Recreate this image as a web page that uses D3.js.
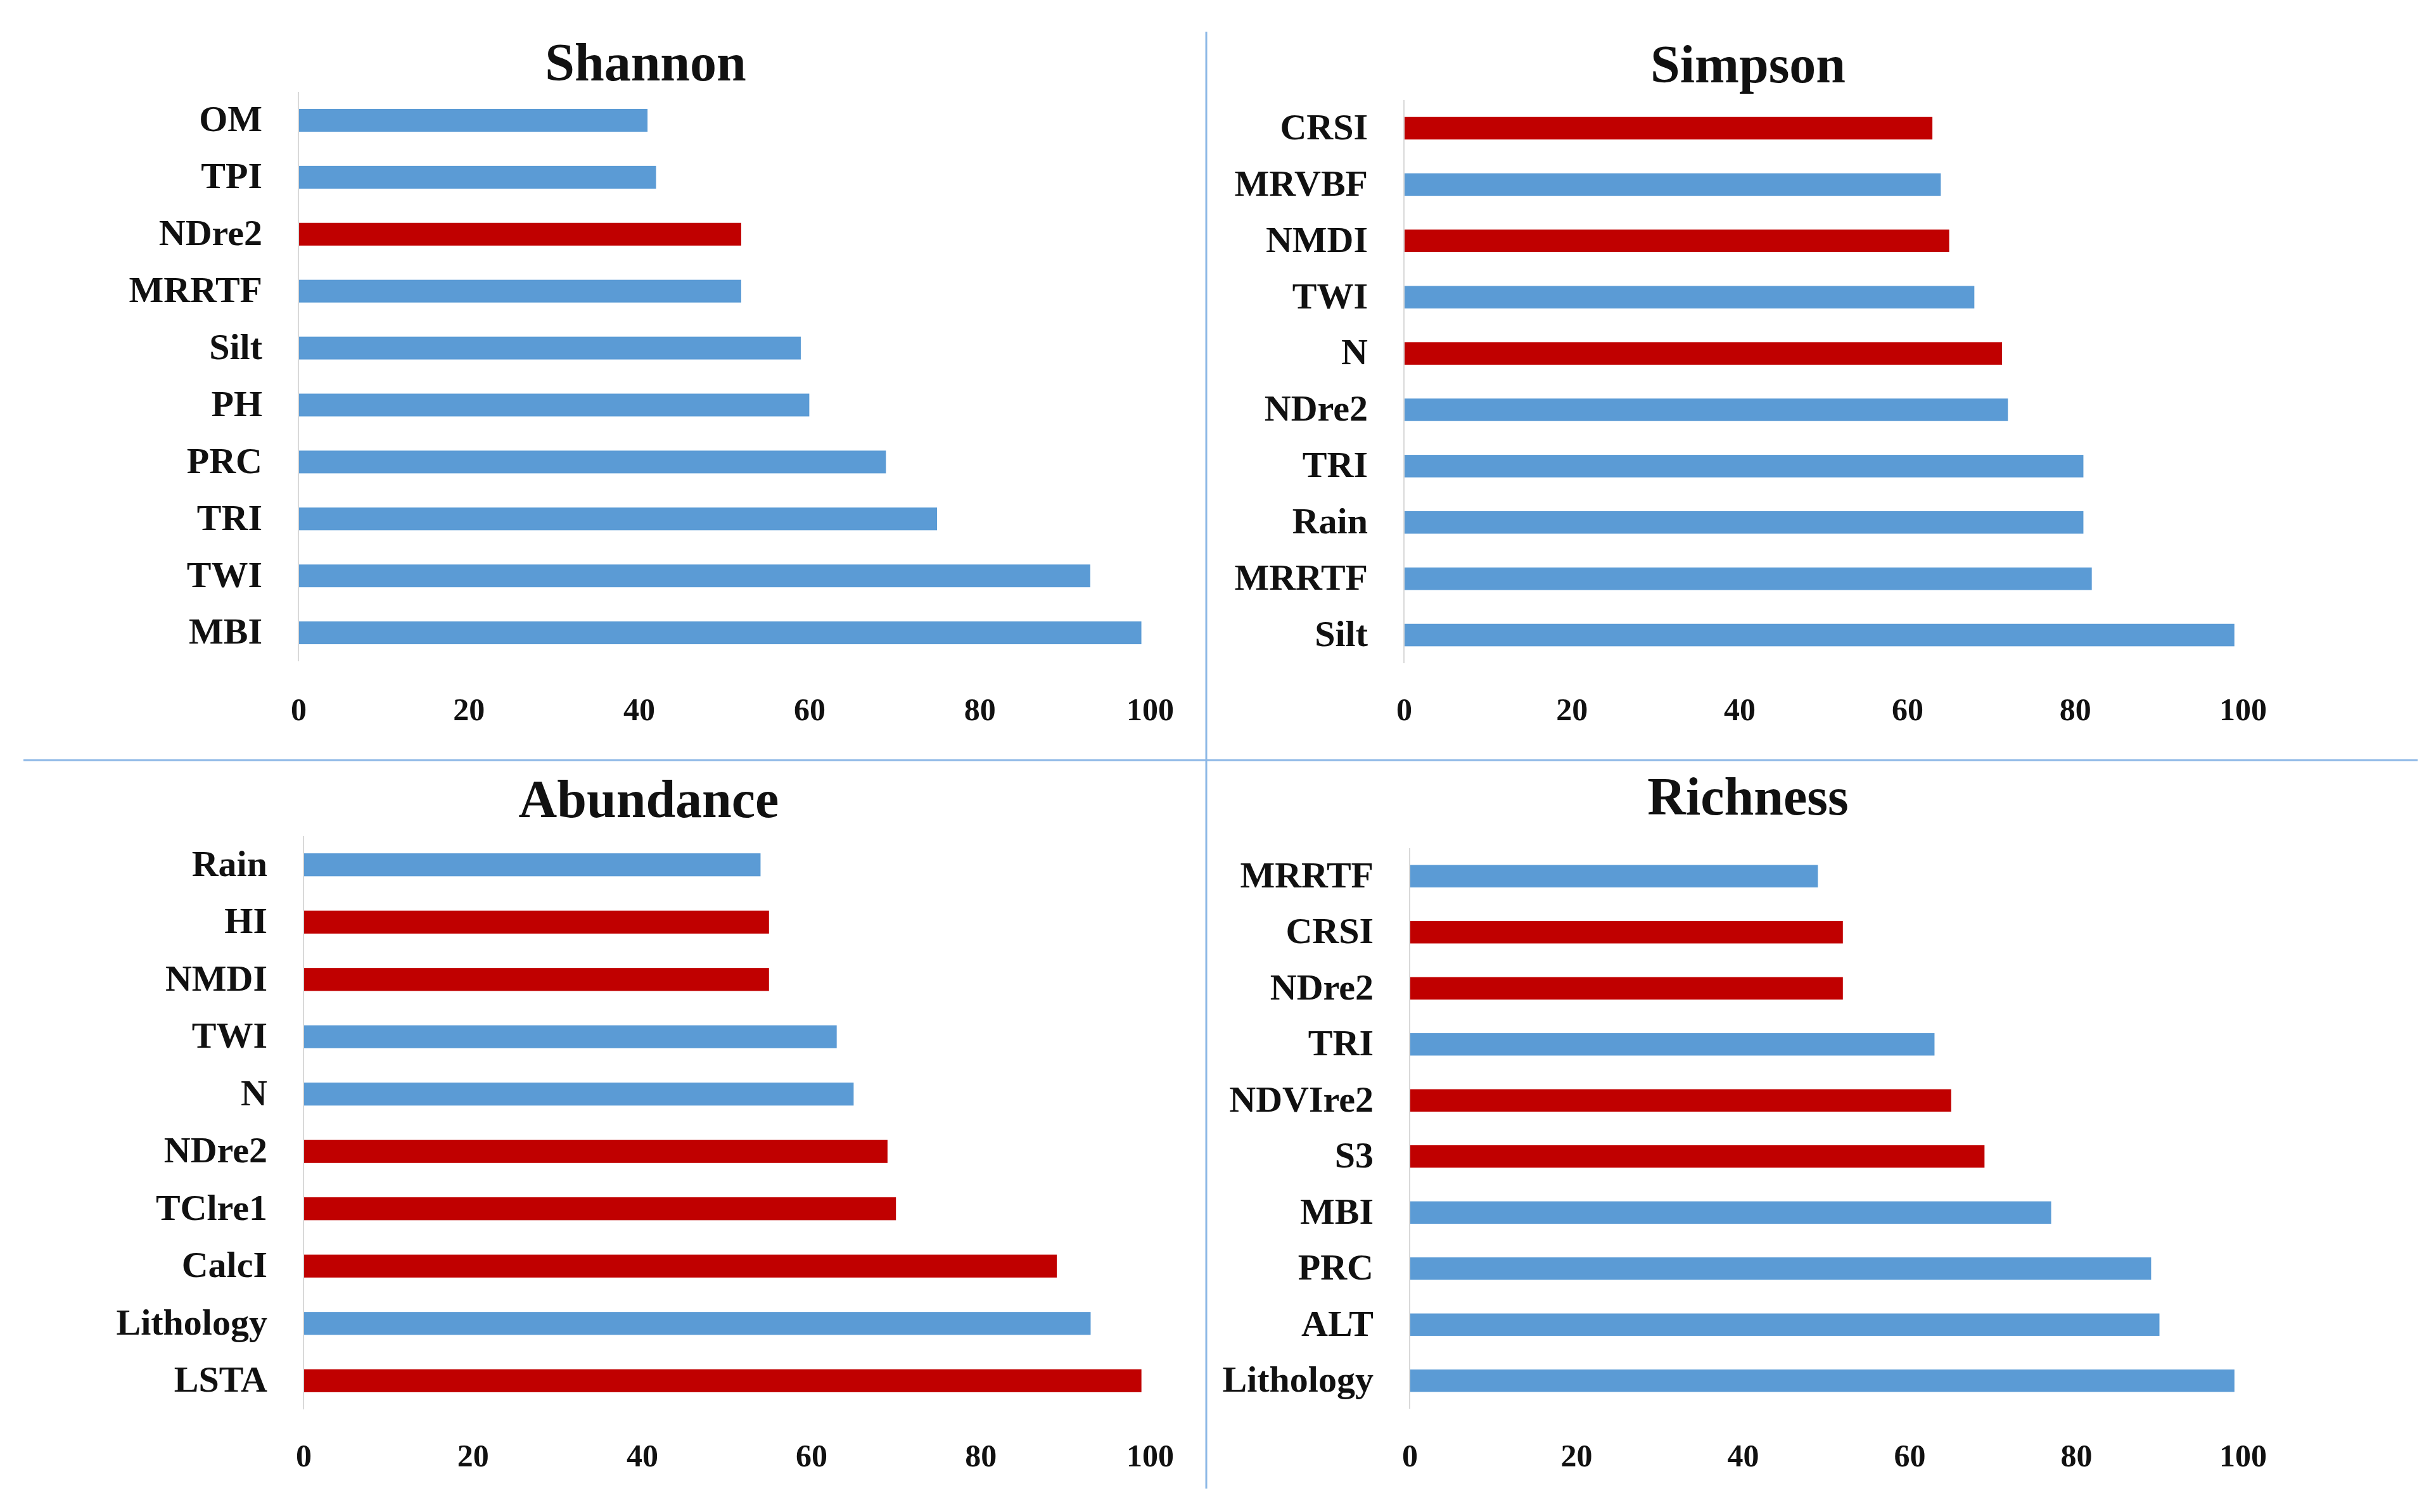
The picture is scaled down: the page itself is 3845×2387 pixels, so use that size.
<!DOCTYPE html>
<html>
<head>
<meta charset="utf-8">
<script src="https://cdn.jsdelivr.net/npm/d3@7"></script>
<style>
  body { margin: 0; background: #fff; }
  text { font-family: "Liberation Serif", "Times New Roman", serif; font-weight: bold; fill: #111; }
</style>
</head>
<body>
<div id="chart"></div>
<script>
// values (percent importance), top to bottom
const shannonCats = ["OM", "TPI", "NDre2", "MRRTF", "Silt", "PH", "PRC", "TRI", "TWI", "MBI"];
const shannonVals = [41, 42, 52, 52, 59, 60, 69, 75, 93, 99];
const shannonGroup = ["A", "A", "B", "A", "A", "A", "A", "A", "A", "A"];

const simpsonCats = ["CRSI", "MRVBF", "NMDI", "TWI", "N", "NDre2", "TRI", "Rain", "MRRTF", "Silt"];
const simpsonVals = [63, 64, 65, 68, 71.3, 72, 81, 81, 82, 99];
const simpsonGroup = ["B", "A", "B", "A", "B", "A", "A", "A", "A", "A"];

const abundanceCats = ["Rain", "HI", "NMDI", "TWI", "N", "NDre2", "TClre1", "CalcI", "Lithology", "LSTA"];
const abundanceVals = [54, 55, 55, 63, 65, 69, 70, 89, 93, 99];
const abundanceGroup = ["A", "B", "B", "A", "A", "B", "B", "B", "A", "B"];

const richnessCats = ["MRRTF", "CRSI", "NDre2", "TRI", "NDVIre2", "S3", "MBI", "PRC", "ALT", "Lithology"];
const richnessVals = [49, 52, 52, 63, 65, 69, 77, 89, 90, 99];
const richnessGroup = ["A", "B", "B", "A", "B", "B", "A", "A", "A", "A"];

const xTicks = [0, 20, 40, 60, 80, 100];

const W = 3845, H = 2387;
const colors = { A: "#5B9BD5", B: "#C00000" };

const svg = d3.select("#chart").append("svg")
  .attr("width", W)
  .attr("height", H)
  .attr("viewBox", `0 0 ${W} ${H}`);

// panel frames: x range of 0..100, band range, title spot, tick baseline
const panels = [
  { title: "Shannon", cats: shannonCats, vals: shannonVals, grp: shannonGroup,
    x: [471, 1815], y: [145, 1044], tx: 1019, ty: 127, tickY: 1137 },
  { title: "Simpson", cats: simpsonCats, vals: simpsonVals, grp: simpsonGroup,
    x: [2216, 3540], y: [158, 1047], tx: 2759, ty: 130, tickY: 1137 },
  { title: "Abundance", cats: abundanceCats, vals: abundanceVals, grp: abundanceGroup,
    x: [479, 1815], y: [1320, 2225], tx: 1024, ty: 1290, tickY: 2315 },
  { title: "Richness", cats: richnessCats, vals: richnessVals, grp: richnessGroup,
    x: [2225, 3540], y: [1339, 2224], tx: 2759, ty: 1286, tickY: 2315 }
];

panels.forEach(p => {
  let x = d3.scaleLinear().domain([0, 100]).range(p.x);
  let y = d3.scaleBand().domain(p.cats).range(p.y)
    .paddingInner(0.6).paddingOuter(0.3);

  let g = svg.append("g");

  g.append("text")
    .attr("x", p.tx)
    .attr("y", p.ty)
    .attr("text-anchor", "middle")
    .attr("font-size", 84)
    .text(p.title);

  g.selectAll("rect")
    .data(p.cats)
    .join("rect")
    .attr("x", x(0))
    .attr("y", d => y(d))
    .attr("width", (d, i) => x(p.vals[i]) - x(0))
    .attr("height", y.bandwidth())
    .attr("fill", (d, i) => colors[p.grp[i]]);

  // category axis line
  g.append("line")
    .attr("x1", x(0))
    .attr("x2", x(0))
    .attr("y1", p.y[0])
    .attr("y2", p.y[1])
    .attr("stroke", "#d9d9d9")
    .attr("stroke-width", 2);

  g.selectAll("text.cat")
    .data(p.cats)
    .join("text")
    .attr("class", "cat")
    .attr("x", x(0) - 57)
    .attr("y", d => y(d) + y.bandwidth() / 2)
    .attr("dy", "0.3em")
    .attr("text-anchor", "end")
    .attr("font-size", 58)
    .text(d => d);

  let ax = g.append("g")
    .attr("transform", `translate(0, ${p.tickY})`)
    .call(d3.axisBottom(x).tickValues(xTicks).tickSize(0).tickPadding(0));
  ax.select(".domain").remove();
  ax.selectAll("text")
    .attr("dy", 0)
    .attr("font-size", 50)
    .attr("font-family", "Liberation Serif")
    .attr("font-weight", "bold")
    .attr("fill", "#111");
});

// quadrant separators
svg.append("line")
  .attr("x1", 37).attr("x2", 3816)
  .attr("y1", 1200).attr("y2", 1200)
  .attr("stroke", "#8db8e6")
  .attr("stroke-width", 3);

svg.append("line")
  .attr("x1", 1904).attr("x2", 1904)
  .attr("y1", 50).attr("y2", 2350)
  .attr("stroke", "#8db8e6")
  .attr("stroke-width", 3);
</script>
</body>
</html>
